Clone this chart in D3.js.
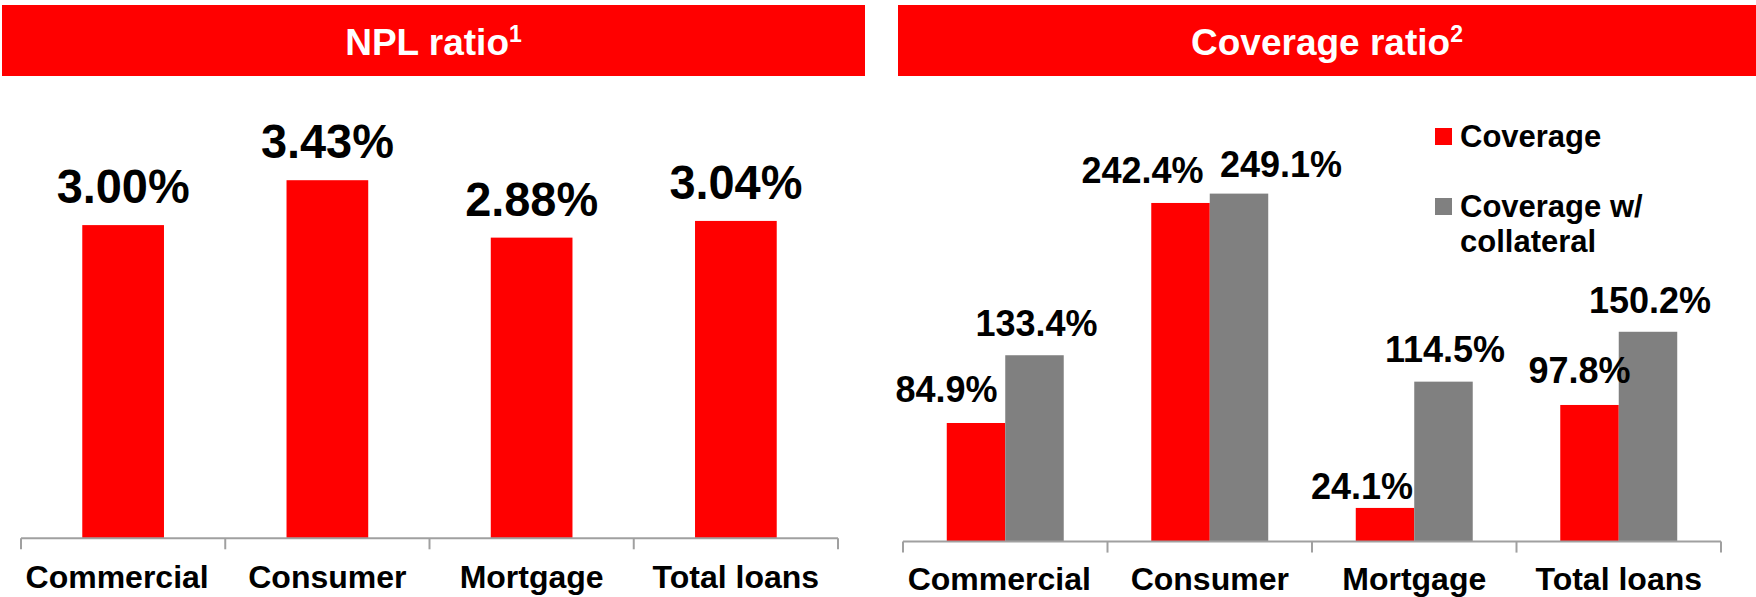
<!DOCTYPE html>
<html>
<head>
<meta charset="utf-8">
<script src="https://cdn.jsdelivr.net/npm/d3@7"></script>
<style>
  html, body { margin: 0; padding: 0; background: #ffffff; }
  svg { display: block; }
  text { font-family: "Liberation Sans", Arial, Helvetica, sans-serif; font-weight: bold; }
</style>
</head>
<body>
<svg id="chart" width="1756" height="597"></svg>
<script>
// ---- data ----
const categories = ["Commercial", "Consumer", "Mortgage", "Total loans"];
const nplRatio = [3.00, 3.43, 2.88, 3.04];
const coverage = [84.9, 242.4, 24.1, 97.8];
const coverageCollateral = [133.4, 249.1, 114.5, 150.2];
const seriesNames = ["Coverage", "Coverage w/ collateral"];

// ---- styling / layout ----
const RED = "#ff0000";
const GREY = "#808080";
const AXIS = "#a0a0a0";

const svg = d3.select("#chart");

// ---- title banners ----
function banner(x0, x1, main, sup) {
  svg.append("rect")
    .attr("x", x0).attr("y", 5).attr("width", x1 - x0).attr("height", 71)
    .attr("fill", RED);
  const t = svg.append("text")
    .attr("x", (x0 + x1) / 2).attr("y", 55)
    .attr("text-anchor", "middle")
    .attr("fill", "#ffffff")
    .style("font-size", "37px");
  t.append("tspan").text(main);
  t.append("tspan").attr("dy", -13).style("font-size", "23px").text(sup);
}
banner(2, 865, "NPL ratio", "1");
banner(898, 1756, "Coverage ratio", "2");

// ---- shared axis drawing ----
// small horizontal shift for the widest category label
const labelShift = [-6, 0, 0, 0];

function categoryAxis(x, yBase, labelY) {
  const g = svg.append("g");
  const [r0, r1] = x.range();
  g.append("line")
    .attr("x1", r0).attr("x2", r1).attr("y1", yBase).attr("y2", yBase)
    .attr("stroke", AXIS).attr("stroke-width", 2);
  const bounds = categories.map(c => x(c)).concat([x(categories[categories.length - 1]) + x.step()]);
  g.selectAll("line.tick").data(bounds).join("line")
    .attr("class", "tick")
    .attr("x1", d => d).attr("x2", d => d)
    .attr("y1", yBase).attr("y2", yBase + 11)
    .attr("stroke", AXIS).attr("stroke-width", 2);
  g.selectAll("text").data(categories).join("text")
    .attr("x", (d, i) => x(d) + x.bandwidth() / 2 + labelShift[i])
    .attr("y", labelY)
    .attr("text-anchor", "middle")
    .attr("fill", "#000")
    .style("font-size", "32px")
    .text(d => d);
}

// ---- left panel: NPL ratio ----
{
  const x = d3.scaleBand().domain(categories).range([21, 838]).padding(0);
  const y = d3.scaleLinear().domain([0, 4]).range([538.3, 120.7]);
  const barW = x.bandwidth() * 0.4;
  const data = categories.map((c, i) => ({ c, v: nplRatio[i] }));

  svg.append("g").selectAll("rect").data(data).join("rect")
    .attr("x", d => x(d.c) + (x.bandwidth() - barW) / 2)
    .attr("y", d => y(d.v))
    .attr("width", barW)
    .attr("height", d => y(0) - y(d.v))
    .attr("fill", RED);

  // condensed value labels
  svg.append("g").selectAll("text").data(data).join("text")
    .attr("x", d => x(d.c) + x.bandwidth() / 2)
    .attr("y", d => y(d.v) - 22)
    .attr("text-anchor", "middle")
    .attr("textLength", 133)
    .attr("lengthAdjust", "spacingAndGlyphs")
    .attr("fill", "#000")
    .style("font-size", "48px")
    .text(d => d.v.toFixed(2) + "%");

  categoryAxis(x, 538.3, 588);
}

// ---- right panel: Coverage ratio ----
{
  const x = d3.scaleBand().domain(categories).range([903, 1721]).padding(0);
  const pairW = x.bandwidth() * 0.572;
  const x1 = d3.scaleBand().domain(seriesNames).range([0, pairW]).padding(0);
  const y = d3.scaleLinear().domain([0, 300]).range([541.6, 122.5]);
  const colors = [RED, GREY];
  const values = [coverage, coverageCollateral];

  // label nudges [dx, dy] so neighbouring labels don't collide
  const nudges = [
    [[-29.5, -1], [-38, 0], [-23, 11], [-10, -2]],
    [[2, 1], [42, 3], [1.5, 0], [2, 1]]
  ];

  const data = [];
  seriesNames.forEach((s, si) => {
    categories.forEach((c, ci) => {
      data.push({ s, si, c, ci, v: values[si][ci] });
    });
  });

  const barX = d => x(d.c) + (x.bandwidth() - pairW) / 2 + x1(d.s);

  svg.append("g").selectAll("rect").data(data).join("rect")
    .attr("x", barX)
    .attr("y", d => y(d.v))
    .attr("width", x1.bandwidth())
    .attr("height", d => y(0) - y(d.v))
    .attr("fill", d => colors[d.si]);

  svg.append("g").selectAll("text").data(data).join("text")
    .attr("x", d => barX(d) + x1.bandwidth() / 2 + nudges[d.si][d.ci][0])
    .attr("y", d => y(d.v) - 20 + nudges[d.si][d.ci][1])
    .attr("text-anchor", "middle")
    .attr("fill", "#000")
    .style("font-size", "36px")
    .text(d => d.v.toFixed(1) + "%");

  categoryAxis(x, 541.6, 590);

  // legend
  const lg = svg.append("g").attr("transform", "translate(1435,128)");
  const legendRows = [
    { color: RED, lines: ["Coverage"], y: 0 },
    { color: GREY, lines: ["Coverage w/", "collateral"], y: 70 }
  ];
  legendRows.forEach(r => {
    lg.append("rect").attr("x", 0).attr("y", r.y).attr("width", 17).attr("height", 17)
      .attr("fill", r.color);
    const t = lg.append("text").attr("x", 25).attr("y", r.y + 19)
      .attr("fill", "#000").style("font-size", "31px");
    r.lines.forEach((ln, i) => {
      t.append("tspan").attr("x", 25).attr("dy", i === 0 ? 0 : 35).text(ln);
    });
  });
}
</script>
</body>
</html>
